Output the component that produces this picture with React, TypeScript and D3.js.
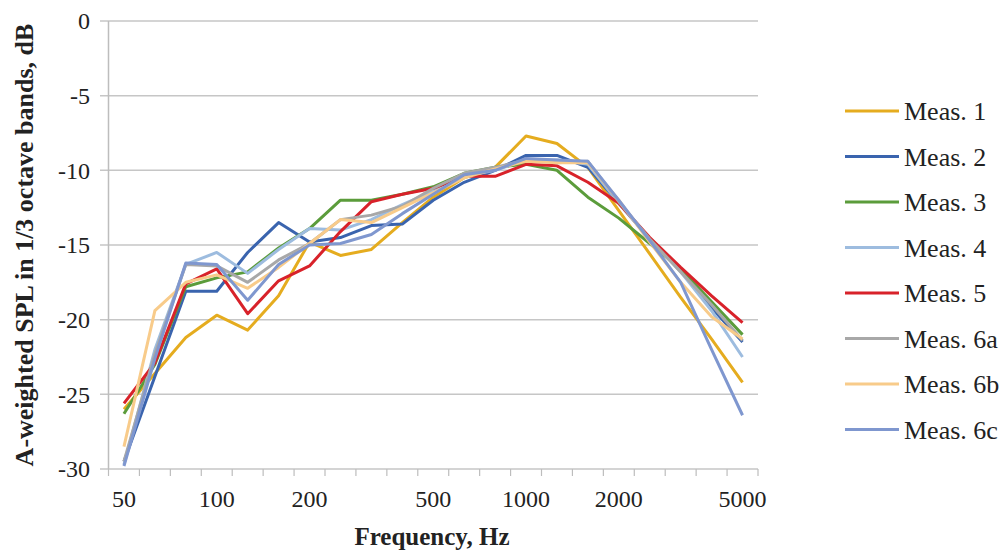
import React from "react";
import * as d3 from "d3";

// 1/3 octave band centre frequencies
const freqs = [
  "50", "63", "80", "100", "125", "160", "200", "250", "315", "400", "500",
  "630", "800", "1000", "1250", "1600", "2000", "2500", "3150", "4000", "5000",
];
const freqLabels = ["50", "100", "200", "500", "1000", "2000", "5000"];
const yTicks = [0, -5, -10, -15, -20, -25, -30];

const meas1 = [-26.0, -23.6, -21.2, -19.7, -20.7, -18.4, -14.8, -15.7, -15.3, -13.5, -11.8, -10.5, -9.8, -7.7, -8.2, -9.8, -12.7, -15.6, -18.5, -21.3, -24.2];
const meas2 = [-29.5, -23.8, -18.1, -18.1, -15.5, -13.5, -14.8, -14.5, -13.7, -13.6, -12.0, -10.8, -10.0, -9.0, -9.0, -9.8, -12.2, -14.6, -16.6, -19.2, -21.5];
const meas3 = [-26.3, -23.0, -17.8, -17.2, -16.8, -15.2, -13.9, -12.0, -12.0, -11.6, -11.1, -10.2, -9.8, -9.6, -10.0, -11.8, -13.2, -14.9, -16.6, -18.8, -21.0];
const meas4 = [-29.7, -22.0, -16.3, -15.5, -16.9, -15.3, -13.9, -14.0, -13.3, -12.3, -11.4, -10.4, -10.0, -9.3, -9.3, -9.6, -12.2, -14.6, -16.8, -19.4, -22.5];
const meas5 = [-25.6, -22.9, -17.6, -16.6, -19.6, -17.4, -16.4, -14.1, -12.1, -11.6, -11.2, -10.4, -10.4, -9.6, -9.7, -10.8, -12.2, -14.5, -16.5, -18.4, -20.2];
const meas6a = [-29.5, -22.3, -16.3, -16.4, -17.5, -16.0, -14.9, -13.3, -13.0, -12.4, -11.2, -10.2, -9.8, -9.3, -9.5, -9.4, -12.1, -14.6, -16.8, -19.0, -21.4];
const meas6b = [-28.5, -19.4, -17.5, -17.0, -17.9, -16.5, -14.9, -13.3, -13.5, -12.5, -11.5, -10.5, -9.9, -9.4, -9.5, -9.5, -12.0, -14.8, -17.5, -19.8, -21.3];
const meas6c = [-29.8, -22.6, -16.2, -16.3, -18.7, -16.3, -15.0, -14.9, -14.3, -12.9, -11.6, -10.3, -10.0, -9.2, -9.3, -9.4, -12.0, -14.7, -17.5, -22.0, -26.4];

const seriesNames = ["Meas. 1", "Meas. 2", "Meas. 3", "Meas. 4", "Meas. 5", "Meas. 6a", "Meas. 6b", "Meas. 6c"];
const seriesValues = [meas1, meas2, meas3, meas4, meas5, meas6a, meas6b, meas6c];
const seriesColors = ["#E5AC1F", "#3A64AE", "#5B9C3B", "#9DBCDF", "#D8222A", "#A8A8A8", "#F8CB8A", "#7F97CF"];

const W = 1006;
const H = 554;
const left = 108.5;
const right = 758;
const top = 21;
const bottom = 469;
const font = "'Liberation Serif', 'Times New Roman', serif";

export default function App() {
  const x = d3.scaleBand<string>().domain(freqs).range([left, right]).padding(0);
  const y = d3.scaleLinear().domain([-30, 0]).range([bottom, top]);
  const cx = (f: string) => (x(f) as number) + x.bandwidth() / 2;

  const line = d3
    .line<number>()
    .x((_, i) => cx(freqs[i]))
    .y((d) => y(d));

  const boundaries = freqs.map((f) => x(f) as number).concat([right]);

  return (
    <svg width={W} height={H} style={{ position: "absolute", left: 0, top: 0, background: "#fff" }}>
      {/* gridlines */}
      {yTicks.map((t) => (
        <line key={t} x1={100} x2={right} y1={y(t)} y2={y(t)} stroke="#C6C6C6" strokeWidth={1.5} />
      ))}
      <line x1={left} x2={left} y1={top} y2={bottom} stroke="#BDBDBD" strokeWidth={1.5} />
      {boundaries.map((b, i) => (
        <line key={i} x1={b} x2={b} y1={bottom} y2={bottom + 7} stroke="#BDBDBD" strokeWidth={1.2} />
      ))}
      {yTicks.map((t) => (
        <text key={t} x={90} y={y(t)} dy="0.35em" textAnchor="end" fontFamily={font} fontSize={24} fill="#222">
          {t}
        </text>
      ))}
      {freqLabels.map((f) => (
        <text key={f} x={cx(f)} y={507} textAnchor="middle" fontFamily={font} fontSize={24} fill="#222">
          {f}
        </text>
      ))}
      <text x={432} y={545} textAnchor="middle" fontFamily={font} fontSize={25} fontWeight="bold" fill="#222">
        Frequency, Hz
      </text>
      <text
        transform={`translate(33, ${(top + bottom) / 2}) rotate(-90)`}
        textAnchor="middle"
        fontFamily={font}
        fontSize={26}
        fontWeight="bold"
        fill="#222"
      >
        A-weighted SPL in 1/3 octave bands, dB
      </text>

      {/* series */}
      {seriesValues.map((vals, i) => (
        <path
          key={seriesNames[i]}
          d={line(vals) || ""}
          fill="none"
          stroke={seriesColors[i]}
          strokeWidth={3}
          strokeLinejoin="round"
        />
      ))}

      {/* legend */}
      {seriesNames.map((name, i) => {
        const ly = 111 + i * 45.5;
        return (
          <g key={name}>
            <line x1={845} x2={899} y1={ly} y2={ly} stroke={seriesColors[i]} strokeWidth={3} />
            <text x={904} y={ly} dy="0.35em" fontFamily={font} fontSize={26} fill="#222">
              {name}
            </text>
          </g>
        );
      })}
    </svg>
  );
}
